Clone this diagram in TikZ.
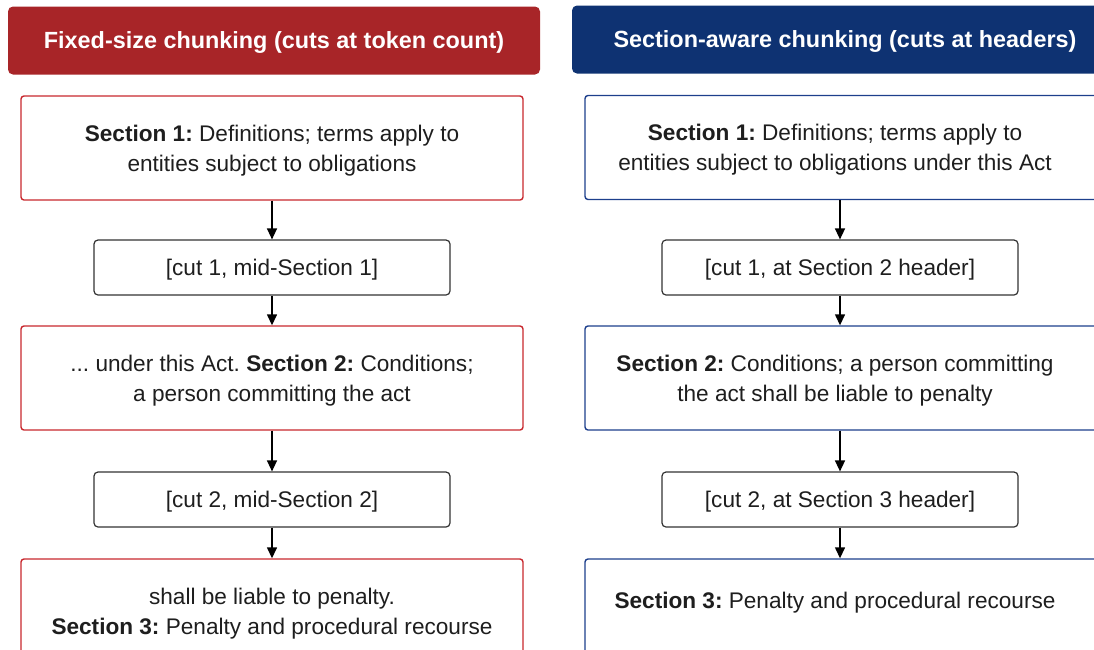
\documentclass[tikz,border=0pt]{standalone}
\usepackage{fontspec}
\setmainfont{Liberation Sans}
\frenchspacing
\usetikzlibrary{arrows.meta,calc}
\definecolor{hdrred}{HTML}{A82528}
\definecolor{hdrblue}{HTML}{0E3272}
\definecolor{boxred}{HTML}{C8282E}
\definecolor{boxblue}{HTML}{1D3F8C}
\definecolor{cutgray}{HTML}{333333}
\definecolor{ink}{HTML}{1E1E1E}
\begin{document}
\begin{tikzpicture}[x=1pt,y=-1pt,
  header/.style={rounded corners=5pt, text=white, font=\fontsize{23.4}{27}\selectfont\bfseries,
    minimum height=68pt, inner sep=0pt, text depth=0pt},
  sectbox/.style={draw, line width=1.4pt, rounded corners=3pt, fill=white, text=ink,
    minimum width=502pt, minimum height=104pt, inner sep=0pt, align=center, text depth=0pt,
    font=\fontsize{22.6}{30}\selectfont},
  redbox/.style={sectbox, draw=boxred},
  bluebox/.style={sectbox, draw=boxblue, minimum width=520pt},
  boxtext/.style={align=center, inner sep=0pt, text=ink, text depth=0pt,
    font=\fontsize{22.6}{30}\selectfont},
  cutbox/.style={draw=cutgray, line width=1.2pt, rounded corners=4pt, fill=white, text=ink,
    minimum width=356pt, minimum height=55pt, inner sep=0pt, text depth=0pt,
    font=\fontsize{22.6}{26}\selectfont},
  arr/.style={-{Triangle[length=11pt,width=10pt]}, line width=1.4pt, black}
]
\useasboundingbox (0,0) rectangle (1094,649);
\begin{scope}
\clip (0,0) rectangle (1094,649);

% ---- left column: fixed-size chunking ----
\node[header, fill=hdrred, minimum width=532pt] (hL) at (274,40.5)
  {Fixed-size chunking (cuts at token count)};
\node[redbox] (b1L) at (272,148)
  {\textbf{Section 1:} Definitions; terms apply to\\entities subject to obligations};
\node[cutbox] (c1L) at (272,267.5) {[cut 1, mid-Section 1]};
\node[redbox] (b2L) at (272,378)
  {... under this Act. \textbf{Section 2:} Conditions;\\a person committing the act};
\node[cutbox] (c2L) at (272,499.5) {[cut 2, mid-Section 2]};
\node[redbox] (b3L) at (272,611)
  {shall be liable to penalty.\\\textbf{Section 3:} Penalty and procedural recourse};

\draw[arr] (b1L) -- (c1L);
\draw[arr] (c1L) -- (b2L);
\draw[arr] (b2L) -- (c2L);
\draw[arr] (c2L) -- (b3L);

% ---- right column: section-aware chunking ----
\node[header, fill=hdrblue, minimum width=546pt] (hR) at (845,39.5)
  {Section-aware chunking (cuts at headers)};
\node[bluebox] (b1R) at (845,147.5) {};
\node[boxtext] (t1R) at ([xshift=-10pt]b1R.center)
  {\textbf{Section 1:} Definitions; terms apply to\\entities subject to obligations under this Act};
\node[cutbox] (c1R) at (840,267.5) {[cut 1, at Section 2 header]};
\node[bluebox] (b2R) at (845,378) {};
\node[boxtext] (t2R) at ([xshift=-10pt]b2R.center)
  {\textbf{Section 2:} Conditions; a person committing\\the act shall be liable to penalty};
\node[cutbox] (c2R) at (840,499.5) {[cut 2, at Section 3 header]};
\node[bluebox] (b3R) at (845,611) {};
\node[boxtext] (t3R) at ([xshift=-10pt,yshift=11pt]b3R.center)
  {\textbf{Section 3:} Penalty and procedural recourse};

\draw[arr] (b1R.south -| c1R.north) -- (c1R.north);
\draw[arr] (c1R) -- (c1R |- b2R.north);
\draw[arr] (b2R.south -| c2R.north) -- (c2R.north);
\draw[arr] (c2R) -- (c2R |- b3R.north);
\end{scope}
\end{tikzpicture}
\end{document}
